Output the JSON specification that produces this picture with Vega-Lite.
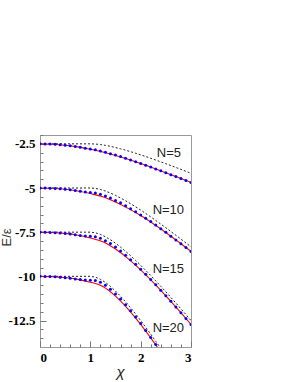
{
"$schema":"https://vega.github.io/schema/vega-lite/v6.json",
"width":151,"height":212,"autosize":"none",
"padding":{"left":40,"top":135,"right":104,"bottom":35},
"background":"white",
"config":{"view":{"stroke":"#999","strokeWidth":1},"axis":{"grid":false,"domain":false}},
"datasets":{
"exact":[
{"N":5,"chi":0,"E":-2.5},{"N":5,"chi":0.25,"E":-2.52},{"N":5,"chi":0.5,"E":-2.578},{"N":5,"chi":0.75,"E":-2.674},{"N":5,"chi":1,"E":-2.806},{"N":5,"chi":1.25,"E":-2.963},{"N":5,"chi":1.5,"E":-3.158},{"N":5,"chi":1.75,"E":-3.377},{"N":5,"chi":2,"E":-3.615},{"N":5,"chi":2.25,"E":-3.868},{"N":5,"chi":2.5,"E":-4.135},{"N":5,"chi":2.75,"E":-4.407},{"N":5,"chi":3,"E":-4.687},
{"N":10,"chi":0,"E":-5},{"N":10,"chi":0.25,"E":-5.018},{"N":10,"chi":0.5,"E":-5.072},{"N":10,"chi":0.75,"E":-5.172},{"N":10,"chi":1,"E":-5.315},{"N":10,"chi":1.25,"E":-5.495},{"N":10,"chi":1.5,"E":-5.797},{"N":10,"chi":1.75,"E":-6.154},{"N":10,"chi":2,"E":-6.56},{"N":10,"chi":2.25,"E":-7.021},{"N":10,"chi":2.5,"E":-7.515},{"N":10,"chi":2.75,"E":-8.046},{"N":10,"chi":3,"E":-8.595},
{"N":15,"chi":0,"E":-7.5},{"N":15,"chi":0.25,"E":-7.517},{"N":15,"chi":0.5,"E":-7.57},{"N":15,"chi":0.75,"E":-7.67},{"N":15,"chi":1,"E":-7.825},{"N":15,"chi":1.25,"E":-8.045},{"N":15,"chi":1.5,"E":-8.455},{"N":15,"chi":1.75,"E":-8.997},{"N":15,"chi":2,"E":-9.635},{"N":15,"chi":2.25,"E":-10.346},{"N":15,"chi":2.5,"E":-11.105},{"N":15,"chi":2.75,"E":-11.901},{"N":15,"chi":3,"E":-12.725},
{"N":20,"chi":0,"E":-10},{"N":20,"chi":0.25,"E":-10.017},{"N":20,"chi":0.5,"E":-10.069},{"N":20,"chi":0.75,"E":-10.17},{"N":20,"chi":1,"E":-10.33},{"N":20,"chi":1.25,"E":-10.578},{"N":20,"chi":1.5,"E":-11.123},{"N":20,"chi":1.75,"E":-11.859},{"N":20,"chi":2,"E":-12.72},{"N":20,"chi":2.25,"E":-13.684},{"N":20,"chi":2.5,"E":-14.7}
],
"hf":[
{"N":5,"chi":0,"E":-2.5},{"N":5,"chi":0.5,"E":-2.5},{"N":5,"chi":1,"E":-2.5},{"N":5,"chi":1.1,"E":-2.511},{"N":5,"chi":1.2,"E":-2.542},{"N":5,"chi":1.3,"E":-2.587},{"N":5,"chi":1.4,"E":-2.643},{"N":5,"chi":1.5,"E":-2.708},{"N":5,"chi":1.6,"E":-2.781},{"N":5,"chi":1.7,"E":-2.86},{"N":5,"chi":1.8,"E":-2.944},{"N":5,"chi":1.9,"E":-3.033},{"N":5,"chi":2,"E":-3.125},{"N":5,"chi":2.1,"E":-3.22},{"N":5,"chi":2.2,"E":-3.318},{"N":5,"chi":2.3,"E":-3.419},{"N":5,"chi":2.4,"E":-3.521},{"N":5,"chi":2.5,"E":-3.625},{"N":5,"chi":2.6,"E":-3.731},{"N":5,"chi":2.7,"E":-3.838},{"N":5,"chi":2.8,"E":-3.946},{"N":5,"chi":2.9,"E":-4.056},{"N":5,"chi":3,"E":-4.167},
{"N":10,"chi":0,"E":-5},{"N":10,"chi":0.5,"E":-5},{"N":10,"chi":1,"E":-5},{"N":10,"chi":1.1,"E":-5.023},{"N":10,"chi":1.2,"E":-5.083},{"N":10,"chi":1.3,"E":-5.173},{"N":10,"chi":1.4,"E":-5.286},{"N":10,"chi":1.5,"E":-5.417},{"N":10,"chi":1.6,"E":-5.563},{"N":10,"chi":1.7,"E":-5.721},{"N":10,"chi":1.8,"E":-5.889},{"N":10,"chi":1.9,"E":-6.066},{"N":10,"chi":2,"E":-6.25},{"N":10,"chi":2.1,"E":-6.441},{"N":10,"chi":2.2,"E":-6.636},{"N":10,"chi":2.3,"E":-6.837},{"N":10,"chi":2.4,"E":-7.042},{"N":10,"chi":2.5,"E":-7.25},{"N":10,"chi":2.6,"E":-7.462},{"N":10,"chi":2.7,"E":-7.676},{"N":10,"chi":2.8,"E":-7.893},{"N":10,"chi":2.9,"E":-8.112},{"N":10,"chi":3,"E":-8.333},
{"N":15,"chi":0,"E":-7.5},{"N":15,"chi":0.5,"E":-7.5},{"N":15,"chi":1,"E":-7.5},{"N":15,"chi":1.1,"E":-7.534},{"N":15,"chi":1.2,"E":-7.625},{"N":15,"chi":1.3,"E":-7.76},{"N":15,"chi":1.4,"E":-7.929},{"N":15,"chi":1.5,"E":-8.125},{"N":15,"chi":1.6,"E":-8.344},{"N":15,"chi":1.7,"E":-8.581},{"N":15,"chi":1.8,"E":-8.834},{"N":15,"chi":1.9,"E":-9.099},{"N":15,"chi":2,"E":-9.375},{"N":15,"chi":2.1,"E":-9.661},{"N":15,"chi":2.2,"E":-9.955},{"N":15,"chi":2.3,"E":-10.256},{"N":15,"chi":2.4,"E":-10.563},{"N":15,"chi":2.5,"E":-10.875},{"N":15,"chi":2.6,"E":-11.192},{"N":15,"chi":2.7,"E":-11.514},{"N":15,"chi":2.8,"E":-11.839},{"N":15,"chi":2.9,"E":-12.168},{"N":15,"chi":3,"E":-12.5},
{"N":20,"chi":0,"E":-10},{"N":20,"chi":0.5,"E":-10},{"N":20,"chi":1,"E":-10},{"N":20,"chi":1.1,"E":-10.045},{"N":20,"chi":1.2,"E":-10.167},{"N":20,"chi":1.3,"E":-10.346},{"N":20,"chi":1.4,"E":-10.571},{"N":20,"chi":1.5,"E":-10.833},{"N":20,"chi":1.6,"E":-11.125},{"N":20,"chi":1.7,"E":-11.441},{"N":20,"chi":1.8,"E":-11.778},{"N":20,"chi":1.9,"E":-12.132},{"N":20,"chi":2,"E":-12.5},{"N":20,"chi":2.1,"E":-12.881},{"N":20,"chi":2.2,"E":-13.273},{"N":20,"chi":2.3,"E":-13.674},{"N":20,"chi":2.4,"E":-14.083},{"N":20,"chi":2.5,"E":-14.5}
],
"approx":[
{"N":5,"chi":0,"E":-2.5},{"N":5,"chi":0.1,"E":-2.503},{"N":5,"chi":0.2,"E":-2.512},{"N":5,"chi":0.3,"E":-2.527},{"N":5,"chi":0.4,"E":-2.548},{"N":5,"chi":0.5,"E":-2.575},{"N":5,"chi":0.6,"E":-2.605},{"N":5,"chi":0.7,"E":-2.648},{"N":5,"chi":0.8,"E":-2.7},{"N":5,"chi":0.9,"E":-2.745},{"N":5,"chi":1,"E":-2.79},{"N":5,"chi":1.1,"E":-2.841},{"N":5,"chi":1.2,"E":-2.907},{"N":5,"chi":1.3,"E":-2.977},{"N":5,"chi":1.4,"E":-3.058},{"N":5,"chi":1.5,"E":-3.138},{"N":5,"chi":1.6,"E":-3.221},{"N":5,"chi":1.7,"E":-3.31},{"N":5,"chi":1.8,"E":-3.409},{"N":5,"chi":1.9,"E":-3.508},{"N":5,"chi":2,"E":-3.61},{"N":5,"chi":2.1,"E":-3.715},{"N":5,"chi":2.2,"E":-3.818},{"N":5,"chi":2.3,"E":-3.922},{"N":5,"chi":2.4,"E":-4.028},{"N":5,"chi":2.5,"E":-4.135},{"N":5,"chi":2.6,"E":-4.243},{"N":5,"chi":2.7,"E":-4.352},{"N":5,"chi":2.8,"E":-4.462},{"N":5,"chi":2.9,"E":-4.574},{"N":5,"chi":3,"E":-4.687},
{"N":10,"chi":0,"E":-5},{"N":10,"chi":0.1,"E":-5.003},{"N":10,"chi":0.2,"E":-5.012},{"N":10,"chi":0.3,"E":-5.027},{"N":10,"chi":0.4,"E":-5.048},{"N":10,"chi":0.5,"E":-5.075},{"N":10,"chi":0.6,"E":-5.105},{"N":10,"chi":0.7,"E":-5.148},{"N":10,"chi":0.8,"E":-5.19},{"N":10,"chi":0.9,"E":-5.224},{"N":10,"chi":1,"E":-5.252},{"N":10,"chi":1.1,"E":-5.278},{"N":10,"chi":1.2,"E":-5.353},{"N":10,"chi":1.3,"E":-5.454},{"N":10,"chi":1.4,"E":-5.571},{"N":10,"chi":1.5,"E":-5.702},{"N":10,"chi":1.6,"E":-5.841},{"N":10,"chi":1.7,"E":-5.998},{"N":10,"chi":1.8,"E":-6.168},{"N":10,"chi":1.9,"E":-6.342},{"N":10,"chi":2,"E":-6.523},{"N":10,"chi":2.1,"E":-6.711},{"N":10,"chi":2.2,"E":-6.903},{"N":10,"chi":2.3,"E":-7.1},{"N":10,"chi":2.4,"E":-7.301},{"N":10,"chi":2.5,"E":-7.51},{"N":10,"chi":2.6,"E":-7.725},{"N":10,"chi":2.7,"E":-7.938},{"N":10,"chi":2.8,"E":-8.155},{"N":10,"chi":2.9,"E":-8.374},{"N":10,"chi":3,"E":-8.595},
{"N":15,"chi":0,"E":-7.5},{"N":15,"chi":0.1,"E":-7.503},{"N":15,"chi":0.2,"E":-7.512},{"N":15,"chi":0.3,"E":-7.527},{"N":15,"chi":0.4,"E":-7.548},{"N":15,"chi":0.5,"E":-7.575},{"N":15,"chi":0.6,"E":-7.605},{"N":15,"chi":0.7,"E":-7.648},{"N":15,"chi":0.8,"E":-7.686},{"N":15,"chi":0.9,"E":-7.716},{"N":15,"chi":1,"E":-7.734},{"N":15,"chi":1.1,"E":-7.758},{"N":15,"chi":1.2,"E":-7.848},{"N":15,"chi":1.3,"E":-7.98},{"N":15,"chi":1.4,"E":-8.146},{"N":15,"chi":1.5,"E":-8.343},{"N":15,"chi":1.6,"E":-8.564},{"N":15,"chi":1.7,"E":-8.803},{"N":15,"chi":1.8,"E":-9.056},{"N":15,"chi":1.9,"E":-9.32},{"N":15,"chi":2,"E":-9.596},{"N":15,"chi":2.1,"E":-9.883},{"N":15,"chi":2.2,"E":-10.175},{"N":15,"chi":2.3,"E":-10.477},{"N":15,"chi":2.4,"E":-10.784},{"N":15,"chi":2.5,"E":-11.096},{"N":15,"chi":2.6,"E":-11.413},{"N":15,"chi":2.7,"E":-11.735},{"N":15,"chi":2.8,"E":-12.062},{"N":15,"chi":2.9,"E":-12.393},{"N":15,"chi":3,"E":-12.725},
{"N":20,"chi":0,"E":-10},{"N":20,"chi":0.1,"E":-10.003},{"N":20,"chi":0.2,"E":-10.012},{"N":20,"chi":0.3,"E":-10.027},{"N":20,"chi":0.4,"E":-10.048},{"N":20,"chi":0.5,"E":-10.075},{"N":20,"chi":0.6,"E":-10.105},{"N":20,"chi":0.7,"E":-10.148},{"N":20,"chi":0.8,"E":-10.18},{"N":20,"chi":0.9,"E":-10.207},{"N":20,"chi":1,"E":-10.215},{"N":20,"chi":1.1,"E":-10.232},{"N":20,"chi":1.2,"E":-10.335},{"N":20,"chi":1.3,"E":-10.506},{"N":20,"chi":1.4,"E":-10.73},{"N":20,"chi":1.5,"E":-10.993},{"N":20,"chi":1.6,"E":-11.29},{"N":20,"chi":1.7,"E":-11.61},{"N":20,"chi":1.8,"E":-11.95},{"N":20,"chi":1.9,"E":-12.306},{"N":20,"chi":2,"E":-12.676},{"N":20,"chi":2.1,"E":-13.064},{"N":20,"chi":2.2,"E":-13.462},{"N":20,"chi":2.3,"E":-13.865}
],
"labels":[
{"chi":2.56,"E":-3.0,"t":"N=5"},{"chi":2.55,"E":-6.25,"t":"N=10"},{"chi":2.55,"E":-9.56,"t":"N=15"},{"chi":2.55,"E":-12.9,"t":"N=20"}
]
},
"layer":[
{"data":{"name":"hf"},"mark":{"type":"line","strokeDash":[2,2],"color":"#222","strokeWidth":1,"clip":true},
"encoding":{
"x":{"field":"chi","type":"quantitative","scale":{"domain":[0,3],"nice":false,"zero":false},
"axis":{"values":[0,1,2,3],"tickSize":-6,"tickColor":"#777","labelFont":"Liberation Serif","labelFontWeight":"bold","labelFontSize":13,"labelColor":"#000","labelPadding":10,"title":"χ","titleFont":"Liberation Sans","titleFontStyle":"italic","titleFontWeight":"normal","titleFontSize":15,"titleColor":"#222","titlePadding":0,"titleX":80}},
"y":{"field":"E","type":"quantitative","scale":{"domain":[-14,-2],"nice":false,"zero":false},
"axis":{"values":[-12.5,-10,-7.5,-5,-2.5],"labelExpr":"toString(datum.value)","tickSize":-6,"tickColor":"#777","labelFont":"Liberation Serif","labelFontWeight":"bold","labelFontSize":13,"labelColor":"#000","labelPadding":11,"title":"E/ε","titleFont":"Liberation Sans","titleFontWeight":"normal","titleFontSize":13,"titleColor":"#333","titleX":-27,"titleY":102}},
"detail":{"field":"N"}}},
{"data":{"name":"exact"},"mark":{"type":"line","color":"#ff0000","strokeWidth":1.1,"interpolate":"monotone","clip":true},
"encoding":{"x":{"field":"chi","type":"quantitative","axis":null},"y":{"field":"E","type":"quantitative","axis":null},"detail":{"field":"N"}}},
{"data":{"name":"approx"},"mark":{"type":"point","filled":true,"color":"#0000ff","size":9,"opacity":1,"clip":true},
"encoding":{"x":{"field":"chi","type":"quantitative","axis":null},"y":{"field":"E","type":"quantitative","axis":null}}},
{"data":{"name":"labels"},"mark":{"type":"text","font":"Liberation Sans","fontSize":13,"color":"#222"},
"encoding":{"x":{"field":"chi","type":"quantitative","axis":null},"y":{"field":"E","type":"quantitative","axis":null},"text":{"field":"t"}}},
{"data":{"name":"labels"},"mark":{"type":"point","opacity":0},
"encoding":{
"x":{"field":"chi","type":"quantitative","axis":{"orient":"bottom","values":[0.2,0.4,0.6,0.8,1.2,1.4,1.6,1.8,2.2,2.4,2.6,2.8],"tickSize":-3,"tickColor":"#777","labels":false,"title":null}},
"y":{"field":"E","type":"quantitative","axis":{"orient":"left","values":[-13.5,-13,-12,-11.5,-11,-10.5,-9.5,-9,-8.5,-8,-7,-6.5,-6,-5.5,-4.5,-4,-3.5,-3,-2],"tickSize":-3,"tickColor":"#777","labels":false,"title":null}}}}
],
"resolve":{"axis":{"x":"independent","y":"independent"}}
}
